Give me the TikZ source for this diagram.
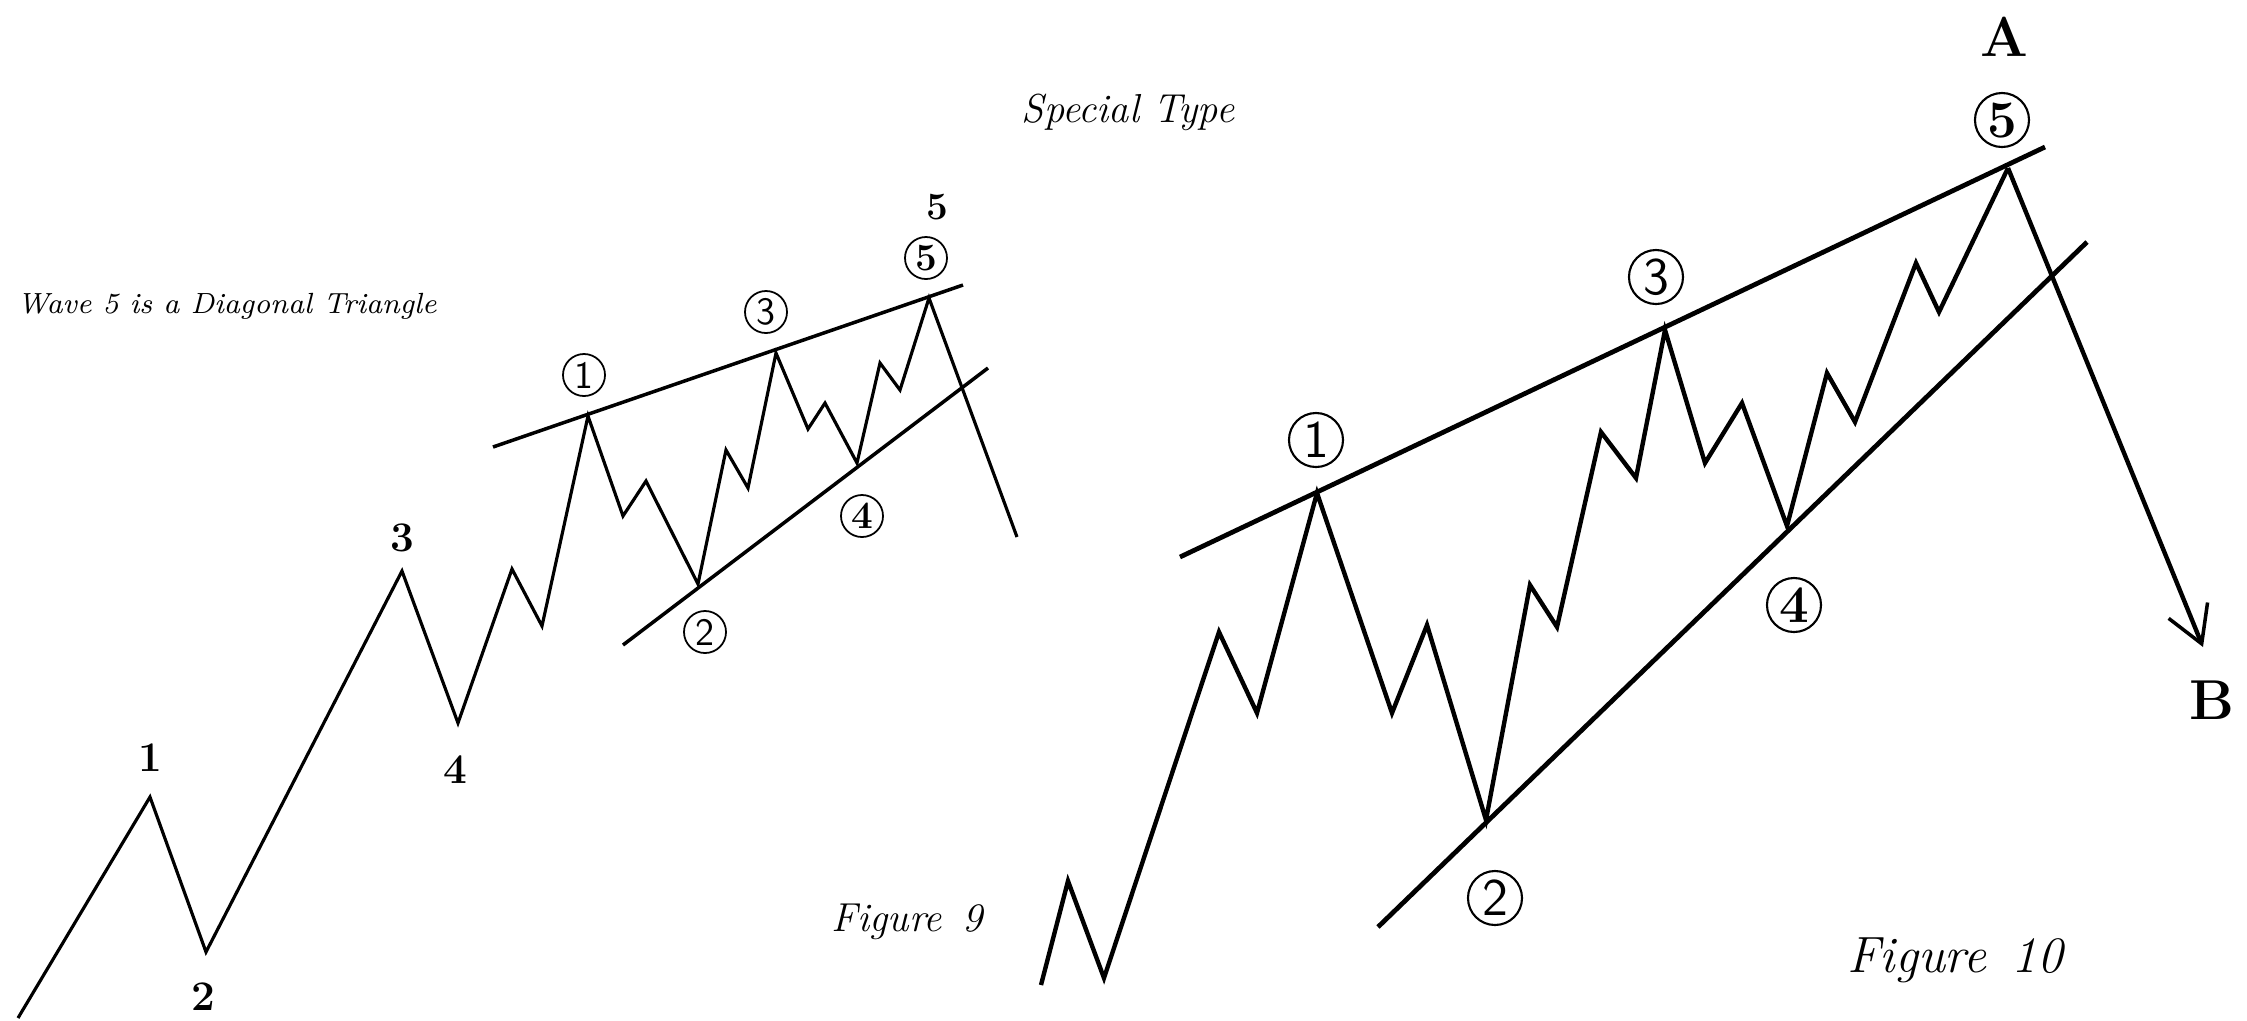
\documentclass[tikz,border=0pt]{standalone}
\usepackage{tikz}
\usetikzlibrary{positioning,arrows.meta}

\begin{document}
\begin{tikzpicture}[
    x=0.01cm, y=-0.01cm,
    wave/.style={line width=0.9pt, line join=miter},
    wavebig/.style={line width=1.25pt, line join=miter},
    chan/.style={line width=1pt},
    chanbig/.style={line width=1.35pt},
    num/.style={inner sep=0pt, font=\fontsize{12}{12}\selectfont\bfseries},
    numbig/.style={inner sep=0pt, font=\fontsize{16}{16}\selectfont\bfseries},
    ring/.style={draw, circle, line width=0.5pt, inner sep=0pt, minimum size=0.42cm, font=\fontsize{11}{11}\selectfont\sffamily},
    ringbold/.style={ring, font=\fontsize{11}{11}\selectfont\bfseries},
    ringbig/.style={draw, circle, line width=0.6pt, inner sep=0pt, minimum size=0.54cm, font=\fontsize{15}{15}\selectfont\sffamily},
    ringbigbold/.style={ringbig, font=\fontsize{15}{15}\selectfont\bfseries},
    note/.style={inner sep=0pt, font=\itshape}
]
\useasboundingbox (0,0) rectangle (2247,1020);

% Figure 9 wave points
\coordinate (n0) at (18,1018);
\coordinate (n1) at (150,797);
\coordinate (n2) at (206,952);
\coordinate (n3) at (402,571);
\coordinate (n4) at (458,723);
\coordinate (n5) at (512,569);
\coordinate (n6) at (542,626);
\coordinate (n7) at (588,416);
\coordinate (n8) at (623,516);
\coordinate (n9) at (646,481);
\coordinate (n10) at (698,584);
\coordinate (n11) at (726,450);
\coordinate (n12) at (748,488);
\coordinate (n13) at (776,353);
\coordinate (n14) at (808,429);
\coordinate (n15) at (825,403);
\coordinate (n16) at (857,463);
\coordinate (n17) at (880,363);
\coordinate (n18) at (900,390);
\coordinate (n19) at (929,298);
\coordinate (n20) at (1017,537);

% Figure 9 channel
\coordinate (up9a) at (493,447);
\coordinate (up9b) at (963,285);
\coordinate (lo9a) at (623,645);
\coordinate (lo9b) at (988,368);

% Figure 10 wave points
\coordinate (m0) at (1041,985);
\coordinate (m1) at (1068,881);
\coordinate (m2) at (1104,978);
\coordinate (m3) at (1219,632);
\coordinate (m4) at (1257,713);
\coordinate (m5) at (1317,493);
\coordinate (m6) at (1392,713);
\coordinate (m7) at (1427,625);
\coordinate (m8) at (1486,820);
\coordinate (m9) at (1530,585);
\coordinate (m10) at (1557,627);
\coordinate (m11) at (1601,432);
\coordinate (m12) at (1636,478);
\coordinate (m13) at (1665,330);
\coordinate (m14) at (1705,463);
\coordinate (m15) at (1742,403);
\coordinate (m16) at (1787,526);
\coordinate (m17) at (1827,373);
\coordinate (m18) at (1855,422);
\coordinate (m19) at (1916,263);
\coordinate (m20) at (1939,312);
\coordinate (m21) at (2008,168);
\coordinate (mB) at (2203,647);

% Figure 10 channel
\coordinate (up10a) at (1180,557);
\coordinate (up10b) at (2045,147);
\coordinate (lo10a) at (1378,927);
\coordinate (lo10b) at (2087,242);

% Figure 9
\draw[wave] (n0) -- (n1) -- (n2) -- (n3) -- (n4) -- (n5) -- (n6) -- (n7) -- (n8) -- (n9) -- (n10)
    -- (n11) -- (n12) -- (n13) -- (n14) -- (n15) -- (n16) -- (n17) -- (n18) -- (n19) -- (n20);
\draw[chan] (up9a) -- (up9b);
\draw[chan] (lo9a) -- (lo9b);

\node[num] (l1) at (150,758) {1};
\node[num] (l2) at (203,997) {2};
\node[num] (l3) at (402,538) {3};
\node[num] (l4) at (455,770) {4};
\node[num, font=\fontsize{11}{11}\selectfont\bfseries] (l5) at (937,207) {5};

\node[ring] (c1) at (584,375) {1};
\node[ring] (c2) at (705,632) {2};
\node[ring] (c3) at (766,312) {3};
\node[ringbold] (c4) at (862,516) {4};
\node[ringbold] (c5) at (926,258) {5};

% Figure 10
\draw[wavebig] (m0) -- (m1) -- (m2) -- (m3) -- (m4) -- (m5) -- (m6) -- (m7) -- (m8) -- (m9) -- (m10)
    -- (m11) -- (m12) -- (m13) -- (m14) -- (m15) -- (m16) -- (m17) -- (m18) -- (m19) -- (m20) -- (m21);
\draw[wavebig, -{Straight Barb[length=0.36cm, width=0.42cm, line width=1pt]}] (m21) -- (mB);
\draw[chanbig] (up10a) -- (up10b);
\draw[chanbig] (lo10a) -- (lo10b);

\node[ringbig] (d1) at (1316,440) {1};
\node[ringbig] (d2) at (1495,898) {2};
\node[ringbig] (d3) at (1656,277) {3};
\node[ringbigbold] (d4) at (1794,605) {4};
\node[ringbigbold] (d5) at (2002,120) {5};

\node[numbig] (lA) at (2004,37) {A};
\node[numbig] (lB) at (2212,700) {B};

% Texts
\node[note, anchor=west, font=\fontsize{8.3}{8.3}\selectfont\itshape] (title9) at (17,306) {Wave 5 is a Diagonal Triangle};
\node[note, font=\fontsize{11.5}{11.5}\selectfont\itshape] (title10) at (1128,112) {Special Type};
\node[note, font=\fontsize{11.5}{11.5}\selectfont\itshape] (fig9) at (907,922) {Figure\enspace 9};
\node[note, font=\fontsize{14.5}{14.5}\selectfont\itshape] (fig10) at (1955,960) {Figure\enspace 10};

\end{tikzpicture}
\end{document}
